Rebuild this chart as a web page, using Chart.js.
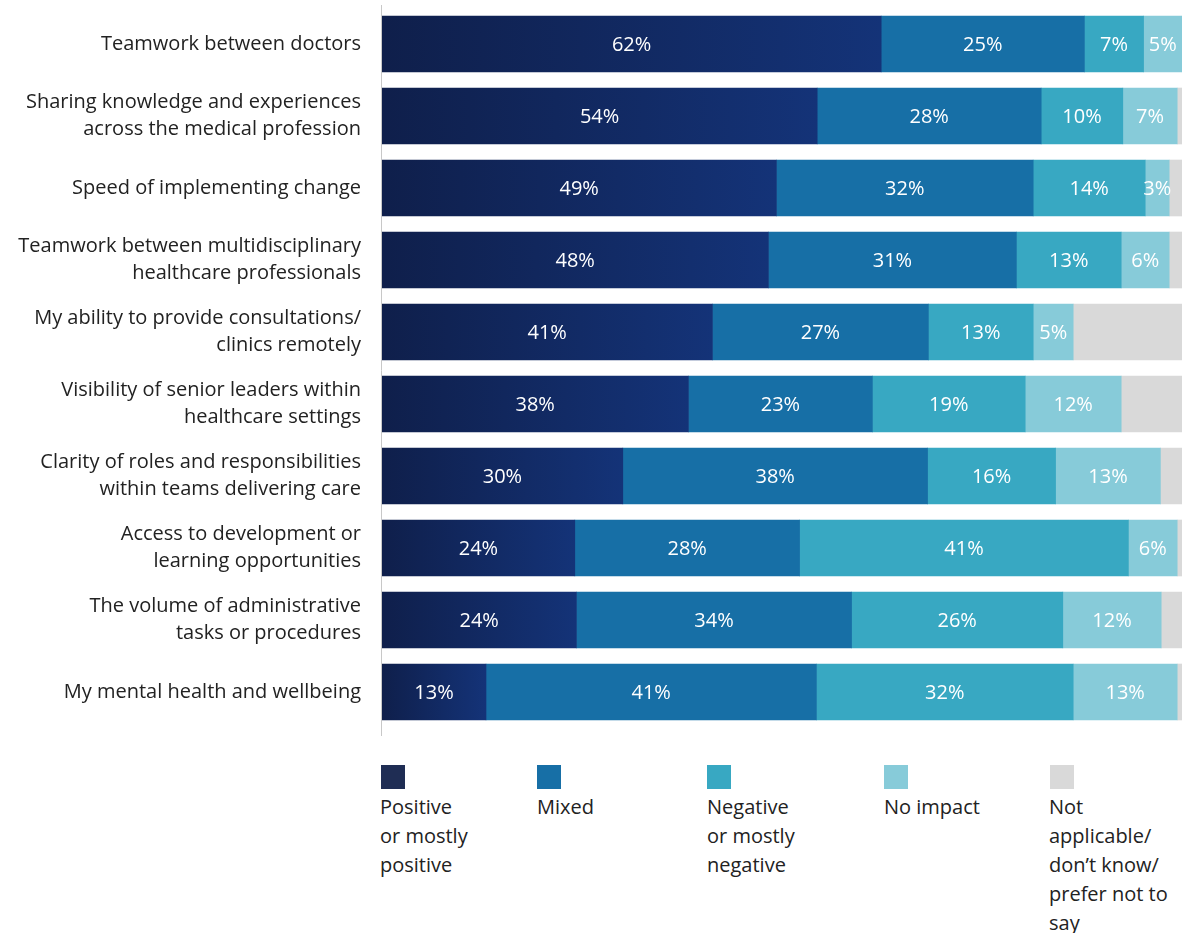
<!DOCTYPE html>
<html>
<head>
<meta charset="utf-8">
<script src="https://cdn.jsdelivr.net/npm/chart.js@4"></script>
<style>
  body { margin: 0; background: #fff; font-family: "Open Sans", sans-serif; }
  #wrap { position: relative; width: 1182px; height: 933px; }
  #box { position: absolute; left: 0; top: 0; width: 1182px; height: 745px; }
  .leg { position: absolute; top: 765px; color: #222; font-size: 20px; line-height: 29px; }
  .leg span { display: block; width: 24px; height: 24px; margin-bottom: 3px; }
</style>
</head>
<body>
<div id="wrap">
  <div id="box"><canvas id="graph1"></canvas></div>
  <div class="leg" style="left:380px"><span style="background:#1f2d54;margin-left:1px"></span>Positive<br>or mostly<br>positive</div>
  <div class="leg" style="left:537px"><span style="background:#176fa6"></span>Mixed</div>
  <div class="leg" style="left:707px"><span style="background:#38a8c2"></span>Negative<br>or mostly<br>negative</div>
  <div class="leg" style="left:884px"><span style="background:#87cbd9"></span>No impact</div>
  <div class="leg" style="left:1049px"><span style="background:#d9d9d9;margin-left:1px"></span>Not<br>applicable/<br>don’t know/<br>prefer not to<br>say</div>
</div>
<script>
const categories = [
    ['Teamwork between doctors'],
    ['Sharing knowledge and experiences', 'across the medical profession'],
    ['Speed of implementing change'],
    ['Teamwork between multidisciplinary', 'healthcare professionals'],
    ['My ability to provide consultations/', 'clinics remotely'],
    ['Visibility of senior leaders within', 'healthcare settings'],
    ['Clarity of roles and responsibilities', 'within teams delivering care'],
    ['Access to development or', 'learning opportunities'],
    ['The volume of administrative', 'tasks or procedures'],
    ['My mental health and wellbeing']
];

const positive = [62.4, 54.4, 49.3, 48.3, 41.3, 38.3, 30.1, 24.1, 24.3, 13.0];
const mixed    = [25.4, 28.0, 32.1, 31.0, 27.0, 23.0, 38.1, 28.1, 34.4, 41.3];
const negative = [7.4, 10.2, 14.0, 13.1, 13.1, 19.1, 16.0, 41.1, 26.4, 32.1];
const noImpact = [4.8, 6.8, 3.0, 6.0, 5.0, 12.0, 13.1, 6.1, 12.3, 13.0];
const notApplicable = [0, 0.6, 1.6, 1.6, 13.6, 7.6, 2.7, 0.6, 2.6, 0.6];

// dark navy gradient for each "positive" bar
function navyGradient(ctx) {
    const chart = ctx.chart;
    const x = chart.scales.x;
    if (!x || ctx.dataIndex === undefined) return '#12255c';
    const x0 = x.getPixelForValue(0);
    const x1 = x.getPixelForValue(positive[ctx.dataIndex]);
    if (!isFinite(x0) || !isFinite(x1) || x1 <= x0) return '#12255c';
    const g = chart.ctx.createLinearGradient(x0, 0, x1, 0);
    g.addColorStop(0, '#0f1f4b');
    g.addColorStop(1, '#143378');
    return g;
}

const valueLabels = {
    id: 'valueLabels',
    afterDatasetsDraw(chart) {
        const c = chart.ctx;
        c.save();
        c.fillStyle = '#ffffff';
        c.font = '20px "Open Sans"';
        c.textAlign = 'center';
        c.textBaseline = 'middle';
        for (let d = 0; d < 4; d++) {
            const meta = chart.getDatasetMeta(d);
            meta.data.forEach((bar, i) => {
                const v = chart.data.datasets[d].data[i];
                const p = bar.getCenterPoint();
                c.fillText(Math.round(v) + '%', p.x, p.y + 1);
            });
        }
        c.restore();
    }
};

const axisLine = {
    id: 'axisLine',
    beforeDatasetsDraw(chart) {
        const c = chart.ctx;
        const left = chart.chartArea.left;
        c.save();
        c.strokeStyle = '#c8c8c8';
        c.lineWidth = 1;
        c.beginPath();
        c.moveTo(left - 0.5, 5);
        c.lineTo(left - 0.5, 736);
        c.stroke();
        c.restore();
    }
};

const data = {
    labels: categories,
    datasets: [
        { label: 'Positive or mostly positive', data: positive, backgroundColor: navyGradient },
        { label: 'Mixed', data: mixed, backgroundColor: '#176fa6' },
        { label: 'Negative or mostly negative', data: negative, backgroundColor: '#38a8c2' },
        { label: 'No impact', data: noImpact, backgroundColor: '#87cbd9' },
        { label: 'Not applicable/ don’t know/ prefer not to say', data: notApplicable, backgroundColor: '#d9d9d9' }
    ]
};

const config = {
    type: 'bar',
    data: data,
    options: {
        indexAxis: 'y',
        responsive: true,
        maintainAspectRatio: false,
        animation: false,
        layout: { padding: { top: 8, bottom: 17, right: 0, left: 0 } },
        datasets: { bar: { barThickness: 56, borderWidth: 0 } },
        plugins: {
            legend: { display: false },
            tooltip: { enabled: false }
        },
        scales: {
            x: { stacked: true, min: 0, max: 100, display: false },
            y: {
                stacked: true,
                grid: { display: false, drawTicks: false },
                border: { display: false },
                ticks: {
                    color: '#222',
                    padding: 21,
                    font: { family: '"Open Sans"', size: 20, lineHeight: 1.35 }
                },
                afterFit(scale) {
                    scale.width = 382;
                    scale.paddingTop = 0;
                    scale.paddingBottom = 0;
                }
            }
        }
    },
    plugins: [valueLabels, axisLine]
};

new Chart(document.querySelector('#graph1'), config);
</script>
</body>
</html>
